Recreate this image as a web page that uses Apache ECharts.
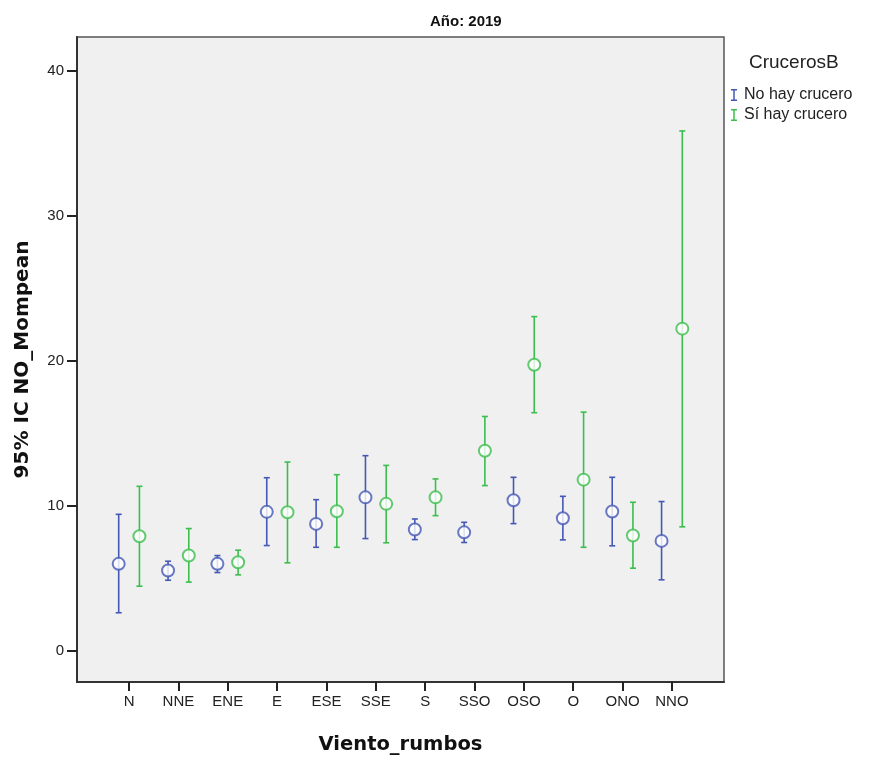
<!DOCTYPE html>
<html>
<head>
<meta charset="utf-8">
<script src="https://cdn.jsdelivr.net/npm/echarts@6/dist/echarts.min.js"></script>
<style>html,body{margin:0;padding:0;background:#fff}#c{width:872px;height:760px}</style>
</head>
<body>
<div id="c"></div>
<script>
const categories = ['N','NNE','ENE','E','ESE','SSE','S','SSO','OSO','O','ONO','NNO'];
const yTicks = [0,10,20,30,40];
// No hay crucero
const noMean  = [6.01, 5.55, 6.01, 9.59, 8.76, 10.59, 8.37, 8.18, 10.39, 9.15, 9.61, 7.59];
const noLow   = [2.64, 4.88, 5.41, 7.27, 7.15, 7.75, 7.68, 7.48, 8.78, 7.66, 7.25, 4.91];
const noHigh  = [9.42, 6.19, 6.58, 11.94, 10.43, 13.46, 9.10, 8.87, 11.97, 10.66, 11.97, 10.30];
// Sí hay crucero
const siMean  = [7.91, 6.58, 6.12, 9.56, 9.63, 10.14, 10.59, 13.80, 19.72, 11.81, 7.96, 22.21];
const siLow   = [4.47, 4.75, 5.25, 6.08, 7.15, 7.46, 9.33, 11.40, 16.42, 7.15, 5.71, 8.56];
const siHigh  = [11.35, 8.44, 6.95, 13.02, 12.15, 12.79, 11.86, 16.16, 23.04, 16.46, 10.25, 35.83];

const BLUE = '#4558B4', GREEN = '#3CBE4E';
const OFF = 0.21;
const FONT = '"Liberation Sans", Arial, sans-serif';
const WIDE = '"DejaVu Sans", "Liberation Sans", sans-serif';

function errData(low, high, shift){
  return categories.map((c,i)=>[i+shift, low[i], high[i]]);
}
function ptData(mean, shift){
  return categories.map((c,i)=>[i+shift, mean[i]]);
}
function errRender(color){
  return function(params, api){
    const x = api.value(0);
    const lo = api.coord([x, api.value(1)]);
    const hi = api.coord([x, api.value(2)]);
    const cw = 3;
    const style = {stroke: color, lineWidth: 1.6};
    return {type:'group', children:[
      {type:'line', shape:{x1:lo[0], y1:lo[1], x2:hi[0], y2:hi[1]}, style},
      {type:'line', shape:{x1:lo[0]-cw, y1:lo[1], x2:lo[0]+cw, y2:lo[1]}, style},
      {type:'line', shape:{x1:hi[0]-cw, y1:hi[1], x2:hi[0]+cw, y2:hi[1]}, style}
    ]};
  };
}
const IBEAM = 'path://M0,0 L6,0 L6,1.5 L3.75,1.5 L3.75,10.5 L6,10.5 L6,12 L0,12 L0,10.5 L2.25,10.5 L2.25,1.5 L0,1.5 Z';

const chart = echarts.init(document.getElementById('c'));
chart.setOption({
  animation:false,
  backgroundColor:'#fff',
  textStyle:{fontFamily:FONT},
  title:[
    {text:'Año: 2019', left:425, top:9,
     textStyle:{fontFamily:FONT, fontSize:15, fontWeight:'bold', color:'#111'}},
    {text:'CrucerosB', left:744, top:48,
     textStyle:{fontFamily:FONT, fontSize:19, fontWeight:'normal', color:'#222'}}
  ],
  legend:{
    orient:'vertical', left:726, top:82, itemGap:4, itemWidth:6, itemHeight:12,
    textStyle:{fontFamily:FONT, fontSize:16, color:'#222', padding:[0,0,0,2]},
    data:[{name:'No hay crucero', icon:IBEAM, itemStyle:{color:BLUE}},
          {name:'Sí hay crucero', icon:IBEAM, itemStyle:{color:GREEN}}]
  },
  grid:{left:77, right:148, top:37, bottom:77, show:true, backgroundColor:'#f0f0f0',
        borderColor:'#555', borderWidth:1.5, containLabel:false},
  xAxis:{
    type:'value', min:-1.055, max:12.055,
    name:'Viento_rumbos', nameLocation:'middle', nameGap:53,
    nameTextStyle:{fontFamily:WIDE, fontSize:19.5, fontWeight:'bold', color:'#111'},
    axisLine:{show:true, onZero:false, lineStyle:{color:'#333', width:2}},
    axisTick:{show:true, length:9, lineStyle:{color:'#222', width:2}, customValues:categories.map((c,i)=>i)},
    axisLabel:{fontFamily:FONT, fontSize:15, color:'#222', margin:12,
      customValues:categories.map((c,i)=>i), formatter:v=>categories[Math.round(v)]},
    splitLine:{show:false}
  },
  yAxis:{
    type:'value', min:-2.13, max:42.3,
    name:'95% IC NO_Mompean', nameLocation:'middle', nameGap:44, nameRotate:90,
    nameTextStyle:{fontFamily:WIDE, fontSize:20, fontWeight:'bold', color:'#111'},
    axisLine:{show:true, onZero:false, lineStyle:{color:'#333', width:2}},
    axisTick:{show:true, length:10, lineStyle:{color:'#222', width:2}, customValues:yTicks},
    axisLabel:{fontFamily:FONT, fontSize:15, color:'#222', margin:13, customValues:yTicks},
    splitLine:{show:false}
  },
  series:[
    {name:'No hay crucero', type:'custom', renderItem:errRender(BLUE), data:errData(noLow,noHigh,-OFF),
     itemStyle:{color:BLUE}, encode:{x:0, y:[1,2]}, z:2},
    {name:'Sí hay crucero', type:'custom', renderItem:errRender(GREEN), data:errData(siLow,siHigh,OFF),
     itemStyle:{color:GREEN}, encode:{x:0, y:[1,2]}, z:2},
    {name:'No hay crucero', type:'scatter', data:ptData(noMean,-OFF), symbol:'emptyCircle', symbolSize:12,
     itemStyle:{color:BLUE, borderColor:BLUE, borderWidth:1.6}, z:3},
    {name:'Sí hay crucero', type:'scatter', data:ptData(siMean,OFF), symbol:'emptyCircle', symbolSize:12,
     itemStyle:{color:GREEN, borderColor:GREEN, borderWidth:1.6}, z:3}
  ]
});
</script>
</body>
</html>
